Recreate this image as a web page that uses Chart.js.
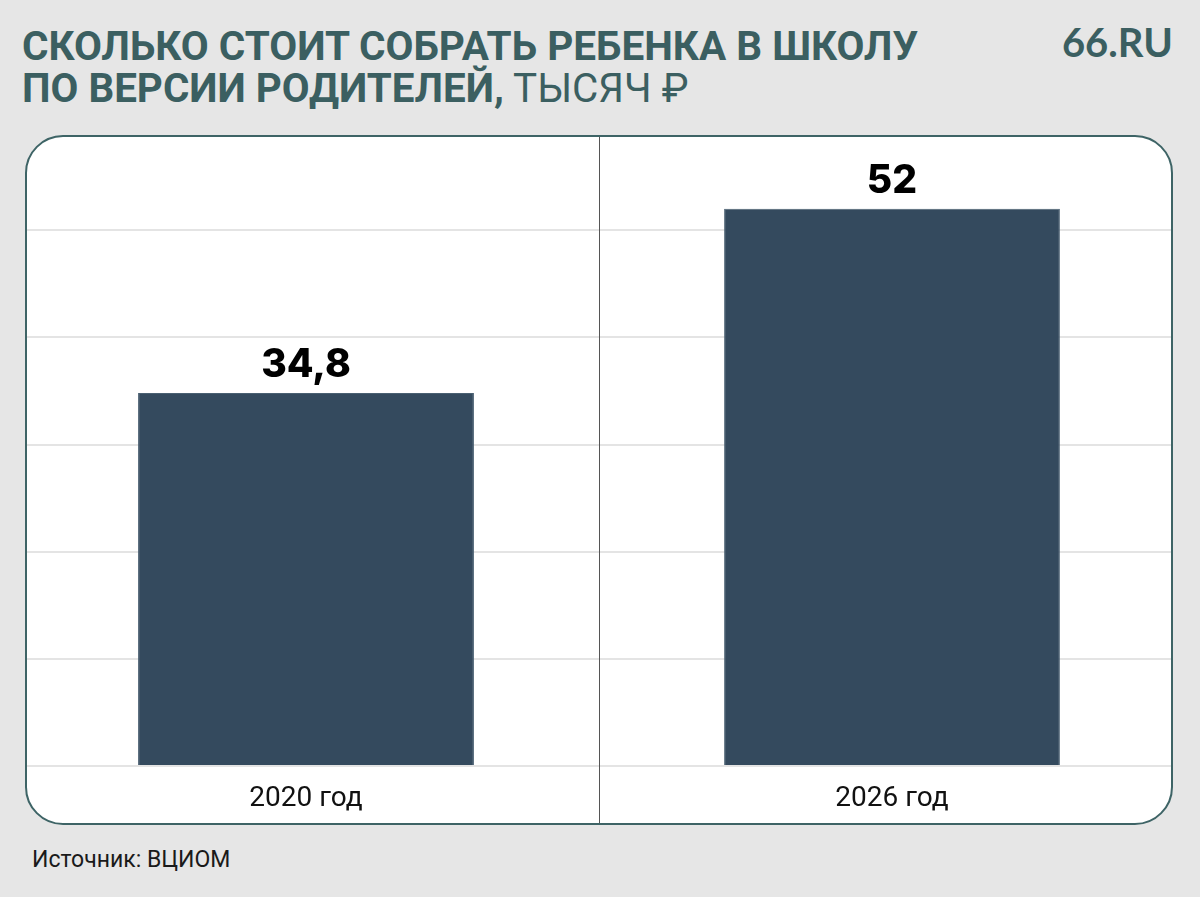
<!DOCTYPE html>
<html lang="ru">
<head>
<meta charset="utf-8">
<title>Сколько стоит собрать ребенка в школу</title>
<script src="https://cdn.jsdelivr.net/npm/chart.js@4.4.1/dist/chart.umd.min.js"></script>
<style>
  html, body { margin: 0; padding: 0; }
  body {
    width: 1200px; height: 897px; background: #e6e6e6;
    position: relative; overflow: hidden; font-family: Roboto, sans-serif;
  }
  .title-line {
    position: absolute; left: 22px; margin: 0; white-space: nowrap;
    font-size: 40px; line-height: 42px; font-weight: 700; color: #3b5f61;
    transform-origin: left top;
  }
  .title-line .light { font-weight: 400; }
  #logo {
    position: absolute; right: 27px; top: 22px; font-family: Lato, sans-serif;
    font-weight: 700; font-size: 40px; line-height: 40px; color: #3b5f61;
  }
  #panel {
    position: absolute; left: 25px; top: 135px; width: 1148px; height: 690px;
    box-sizing: border-box; border: 2.5px solid #3e6466; border-radius: 38px;
    background: #fff; overflow: hidden;
  }
  /* полотно чуть шире панели: столбики в оригинале сдвинуты к краям */
  #panel .wrap { position: absolute; left: -14.5px; top: 0; width: 1172px; height: 100%; }
  #source {
    position: absolute; left: 32px; top: 848px; font-size: 23px; line-height: 23px; color: #1a1a1a;
  }
</style>
</head>
<body>
  <div class="title-line" id="t1" style="top:26px">СКОЛЬКО СТОИТ СОБРАТЬ РЕБЕНКА В ШКОЛУ</div>
  <div class="title-line" id="t2" style="top:68px">ПО ВЕРСИИ РОДИТЕЛЕЙ,<span class="light"> ТЫСЯЧ ₽</span></div>
  <div id="logo">66.RU</div>
  <div id="panel"><div class="wrap"><canvas id="chart"></canvas></div></div>
  <div id="source">Источник: ВЦИОМ</div>

<script>
// данные
const years = ['2020 год', '2026 год'];
const costs = [34.8, 52];
const gridSteps = 10;

// подгоняем заголовок по ширине (шрифт в оригинале узкий)
const fitLine = (id, target) => {
    const el = document.getElementById(id);
    el.style.transform = 'scaleX(' + (target / el.scrollWidth) + ')';
};
fitLine('t1', 896);
fitLine('t2', 666);

// подписи значений над столбиками
const valueLabels = {
    id: 'valueLabels',
    afterDatasetsDraw(chart) {
        const ctx = chart.ctx;
        const meta = chart.getDatasetMeta(0);
        ctx.save();
        ctx.font = '800 39px Inter, sans-serif';
        ctx.fillStyle = '#000';
        ctx.textAlign = 'center';
        ctx.textBaseline = 'alphabetic';
        meta.data.forEach((bar, i) => {
            const txt = String(costs[i]).replace('.', ',');
            ctx.fillText(txt, bar.x, bar.y - 16);
        });
        ctx.restore();
    }
};

// вертикальный разделитель между годами, на всю высоту панели
const divider = {
    id: 'divider',
    beforeDatasetsDraw(chart) {
        const x = chart.scales.x;
        const mid = (x.getPixelForValue(0) + x.getPixelForValue(1)) / 2;
        const ctx = chart.ctx;
        ctx.save();
        ctx.strokeStyle = '#555';
        ctx.lineWidth = 1;
        ctx.beginPath();
        ctx.moveTo(Math.round(mid) + 0.5, 0);
        ctx.lineTo(Math.round(mid) + 0.5, chart.height);
        ctx.stroke();
        ctx.restore();
    }
};

new Chart(document.getElementById('chart'), {
    type: 'bar',
    data: {
        labels: years,
        datasets: [{
            data: costs,
            backgroundColor: '#344a5e',
            borderColor: '#4a6072',
            borderWidth: 1,
            barPercentage: 0.573,
            categoryPercentage: 1
        }]
    },
    options: {
        responsive: true,
        maintainAspectRatio: false,
        animation: false,
        layout: { padding: 0 },
        plugins: {
            legend: { display: false },
            tooltip: { enabled: false }
        },
        scales: {
            x: {
                grid: { display: false, drawTicks: false },
                border: { display: false },
                ticks: {
                    color: '#111',
                    font: { family: 'Roboto', size: 28 },
                    padding: 16
                },
                afterFit(scale) { scale.height = 57; }
            },
            y: {
                min: 0,
                max: 58.7,
                grid: { color: '#e4e4e4', lineWidth: 2, drawTicks: false },
                border: { display: false },
                ticks: { display: false, stepSize: gridSteps, includeBounds: false }
            }
        }
    },
    plugins: [divider, valueLabels]
});
</script>
</body>
</html>
